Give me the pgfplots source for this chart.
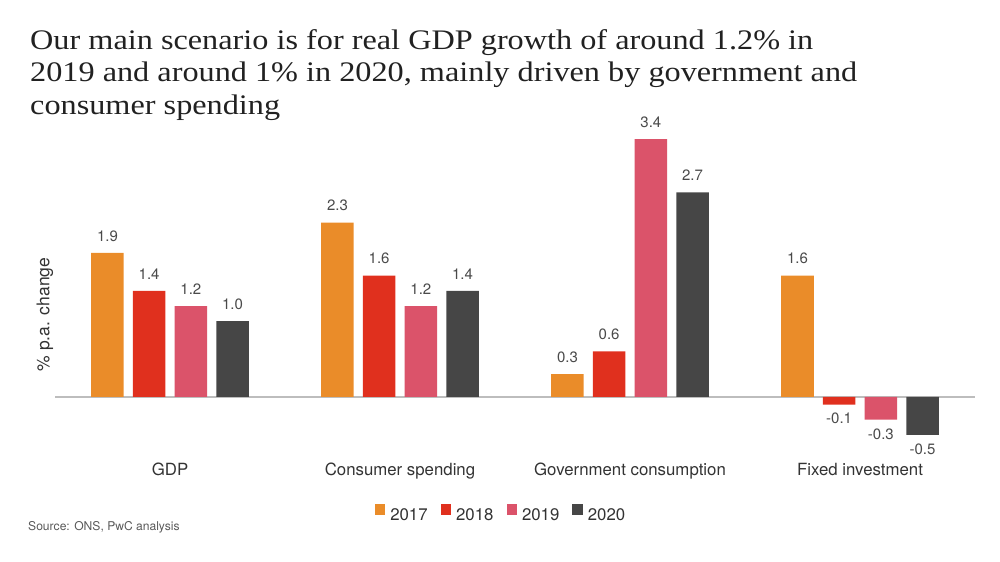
\documentclass[border=0pt]{standalone}
\usepackage{fontspec}
\usepackage{pgfplots}
\usepackage{pgfplotstable}
\pgfplotsset{compat=1.18}
\setmainfont{TeX Gyre Heros}
\newfontfamily\titlefont[FakeStretch=1.14]{Liberation Serif}
\definecolor{cOrange}{HTML}{EA8C29}
\definecolor{cRed}{HTML}{E0301E}
\definecolor{cPink}{HTML}{DB536A}
\definecolor{cDark}{HTML}{464646}
\definecolor{cText}{HTML}{333333}
\definecolor{cVal}{HTML}{4A4A4A}
\definecolor{cAxis}{HTML}{BDBDBD}

\pgfplotstableread{
x y l
0 1.9 1.9
1 2.3 2.3
2 0.3 0.3
3 1.6 1.6
}\dataA
\pgfplotstableread{
x y l
0 1.4 1.4
1 1.6 1.6
2 0.6 0.6
3 -0.1 -0.1
}\dataB
\pgfplotstableread{
x y l
0 1.2 1.2
1 1.2 1.2
2 3.4 3.4
3 -0.3 -0.3
}\dataC
\pgfplotstableread{
x y l
0 1.0 1.0
1 1.4 1.4
2 2.7 2.7
3 -0.5 -0.5
}\dataD

\newcommand\setanch[1]{\ifdim#1pt<0pt\def\myanch{north}\def\myys{-8.5bp}\else\def\myanch{south}\def\myys{11.5bp}\fi}
\pgfplotsset{
  valbar/.style={
    ybar, bar width=0.1417, bar shift=0, draw=none,
    nodes near coords, point meta=explicit symbolic,
    visualization depends on={\thisrow{y} \as \rawy},
    every node near coord/.append style={
      font=\fontsize{15bp}{17bp}\selectfont, text=cVal,
      inner sep=0pt,
      /utils/exec={\setanch{\rawy}},
      anchor=\myanch, yshift=\myys},
  },
}

\begin{document}
\begin{tikzpicture}[x=1bp,y=1bp]
\useasboundingbox (0,0) rectangle (1000,562);
\begin{scope}[every node/.style={anchor=base west, inner sep=0pt, text=black!87,
    font=\titlefont\fontsize{28.3bp}{32.5bp}\selectfont}]
\node at (30,512) {Our main scenario is for real GDP growth of around 1.2\% in};
\node at (30,480) {2019 and around 1\% in 2020, mainly driven by government and};
\node at (30,447) {consumer spending};
\end{scope}

\begin{axis}[
  at={(55bp,104.4bp)}, anchor=south west,
  scale only axis, width=920bp, height=333.5bp,
  xmin=-0.5, xmax=3.5, ymin=-0.8, ymax=3.6,
  axis line style={draw=none},
  xtick={0,1,2,3},
  xticklabels={GDP,Consumer spending,Government consumption,Fixed investment},
  ytick=\empty, major tick length=0pt,
  xticklabel style={anchor=base, yshift=-18.4bp,
    font=\fontsize{16.8bp}{19bp}\selectfont, text=cText},
  clip=false,
  legend columns=4,
  legend style={at={(axis description cs:0.4837,-0.166)}, anchor=center,
    draw=none, fill=none, inner sep=0pt,
    font=\fontsize{16.8bp}{19bp}\selectfont, text=cText,
    /tikz/every odd column/.style={column sep=5bp},
    /tikz/every even column/.style={column sep=13bp},
    /tikz/column 4/.style={column sep=25bp},
    nodes={inner sep=0pt}},
  legend image code/.code={\fill[#1] (0bp,0bp) rectangle (10.5bp,10.5bp);},
]
\draw[cAxis, line width=1.5bp] (axis cs:-0.5,0) -- (axis cs:3.5,0);
\addplot[valbar, fill=cOrange] table[x expr=\thisrow{x}-0.272,y=y,meta=l] {\dataA};
\addlegendentry{2017}
\addplot[valbar, fill=cRed] table[x expr=\thisrow{x}-0.0907,y=y,meta=l] {\dataB};
\addlegendentry{2018}
\addplot[valbar, fill=cPink] table[x expr=\thisrow{x}+0.0907,y=y,meta=l] {\dataC};
\addlegendentry{2019}
\addplot[valbar, fill=cDark] table[x expr=\thisrow{x}+0.272,y=y,meta=l] {\dataD};
\addlegendentry{2020}
\end{axis}

\node[rotate=90, inner sep=0pt, text=cText, font=\fontsize{17.5bp}{19bp}\selectfont] at (45,247.5) {\% p.a. change};
\node[anchor=base west, inner sep=0pt, text=black!65, font=\fontsize{12.1bp}{15bp}\selectfont] at (28,31) {Source: ONS, PwC analysis};
\end{tikzpicture}
\end{document}
